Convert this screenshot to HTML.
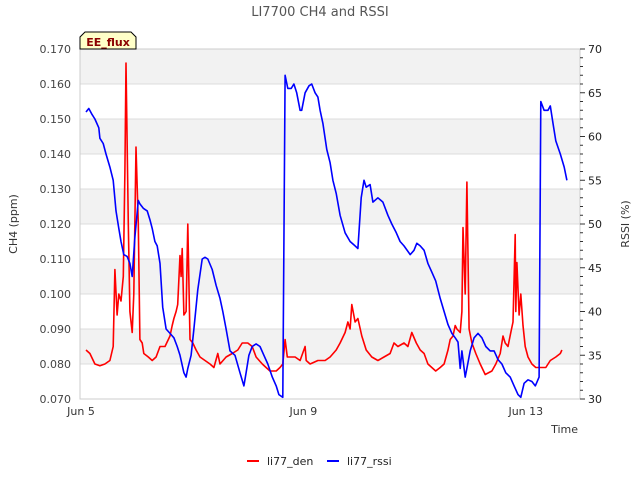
<!DOCTYPE html>
<html><head><meta charset="utf-8"><style>
body{margin:0;background:#fff;}
svg{display:block;font-family:"DejaVu Sans","Liberation Sans",sans-serif;}
</style></head><body>
<svg id="chart" width="640" height="480" viewBox="0 0 640 480" xmlns="http://www.w3.org/2000/svg">
<text x="320" y="16" text-anchor="middle" font-size="13" fill="#555">LI7700 CH4 and RSSI</text>
<g id="bands"></g><g id="grid"></g>
<rect x="80" y="49" width="500" height="350" fill="none" stroke="#ccc"/>
<g id="lticks"></g><g id="rticks"></g><g id="xticks"></g>
<g id="series"></g>
<text transform="translate(17,224) rotate(-90)" text-anchor="middle" font-size="11" fill="#333">CH4 (ppm)</text>
<text transform="translate(629,224) rotate(-90)" text-anchor="middle" font-size="11" fill="#333">RSSI (%)</text>
<text x="578" y="433" text-anchor="end" font-size="11" fill="#333">Time</text>
<g>
<path d="M80,49 L80,37 L85,32 L131,32 L136,37 L136,49 Z" fill="#ffffc8" stroke="#000" stroke-width="1"/>
<text x="108" y="46" text-anchor="middle" font-size="11" font-weight="bold" fill="#8b0000">EE_flux</text>
</g>
<g>
<line x1="247" y1="461" x2="259" y2="461" stroke="red" stroke-width="2"/>
<text x="267" y="465" font-size="11" fill="#222">li77_den</text>
<line x1="327" y1="461" x2="339" y2="461" stroke="blue" stroke-width="2"/>
<text x="347" y="465" font-size="11" fill="#222">li77_rssi</text>
</g>
</svg>
<script>
const denT=[0.09,0.16,0.25,0.34,0.43,0.52,0.58,0.61,0.65,0.68,0.72,0.76,0.79,0.81,0.85,0.88,0.92,0.95,0.99,1.03,1.06,1.10,1.13,1.21,1.28,1.35,1.42,1.51,1.60,1.64,1.67,1.71,1.74,1.78,1.80,1.82,1.85,1.89,1.92,1.96,2.01,2.07,2.14,2.23,2.32,2.39,2.46,2.50,2.61,2.72,2.82,2.90,3.00,3.08,3.15,3.26,3.33,3.40,3.51,3.58,3.63,3.67,3.71,3.85,3.94,4.03,4.05,4.12,4.26,4.39,4.48,4.59,4.66,4.75,4.80,4.84,4.87,4.93,4.98,5.05,5.13,5.23,5.34,5.45,5.56,5.63,5.70,5.81,5.88,5.95,6.03,6.10,6.17,6.24,6.31,6.38,6.46,6.53,6.60,6.64,6.69,6.73,6.76,6.82,6.85,6.87,6.91,6.94,6.98,7.03,7.10,7.18,7.27,7.39,7.46,7.54,7.59,7.63,7.68,7.73,7.77,7.81,7.82,7.84,7.88,7.91,7.95,7.99,8.04,8.11,8.18,8.36,8.44,8.54,8.62,8.65];
const denV=[0.084,0.083,0.080,0.0795,0.080,0.081,0.085,0.107,0.094,0.100,0.098,0.105,0.135,0.166,0.120,0.095,0.089,0.100,0.142,0.120,0.087,0.086,0.083,0.082,0.081,0.082,0.085,0.085,0.088,0.091,0.093,0.095,0.097,0.111,0.105,0.113,0.094,0.095,0.120,0.087,0.086,0.084,0.082,0.081,0.080,0.079,0.083,0.080,0.082,0.083,0.084,0.086,0.086,0.085,0.082,0.080,0.079,0.078,0.078,0.079,0.080,0.087,0.082,0.082,0.081,0.085,0.081,0.080,0.081,0.081,0.082,0.084,0.086,0.089,0.092,0.090,0.097,0.092,0.093,0.088,0.084,0.082,0.081,0.082,0.083,0.086,0.085,0.086,0.085,0.089,0.086,0.084,0.083,0.080,0.079,0.078,0.079,0.080,0.084,0.087,0.088,0.091,0.090,0.089,0.095,0.119,0.100,0.132,0.090,0.086,0.083,0.080,0.077,0.078,0.080,0.083,0.088,0.086,0.085,0.089,0.092,0.117,0.095,0.109,0.094,0.100,0.091,0.085,0.082,0.080,0.079,0.079,0.081,0.082,0.083,0.084];
const rssiT=[0.09,0.14,0.20,0.25,0.32,0.34,0.40,0.45,0.52,0.58,0.63,0.68,0.72,0.77,0.83,0.88,0.92,0.97,1.03,1.06,1.12,1.19,1.24,1.28,1.33,1.37,1.42,1.47,1.53,1.60,1.67,1.73,1.78,1.85,1.89,1.92,1.98,2.03,2.10,2.18,2.23,2.28,2.36,2.43,2.50,2.55,2.61,2.68,2.77,2.86,2.93,2.97,3.02,3.08,3.15,3.22,3.29,3.36,3.44,3.51,3.56,3.63,3.67,3.72,3.78,3.83,3.88,3.94,3.97,4.03,4.10,4.15,4.21,4.26,4.30,4.35,4.42,4.48,4.53,4.59,4.66,4.75,4.84,4.93,4.98,5.04,5.09,5.13,5.20,5.25,5.34,5.43,5.52,5.59,5.67,5.74,5.81,5.92,5.99,6.04,6.10,6.17,6.24,6.31,6.38,6.46,6.53,6.60,6.67,6.73,6.78,6.82,6.85,6.91,6.94,7.00,7.07,7.14,7.21,7.28,7.36,7.43,7.50,7.57,7.64,7.72,7.79,7.86,7.91,7.97,8.04,8.11,8.17,8.24,8.27,8.33,8.40,8.44,8.49,8.54,8.62,8.69,8.74];
const rssiV=[62.8,63.2,62.5,62.0,61.0,59.8,59.2,58.0,56.5,55.0,51.5,49.5,48.0,46.5,46.3,45.5,44.0,48.5,52.7,52.3,51.8,51.5,50.5,49.5,48.0,47.5,45.5,40.5,38.0,37.5,37.0,36.0,35.0,33.0,32.5,33.5,35.0,38.0,42.5,46.0,46.2,46.0,44.8,43.0,41.5,40.0,38.0,35.5,35.0,33.0,31.5,33.0,35.0,36.0,36.3,36.0,35.0,34.0,32.5,31.5,30.5,30.2,67.0,65.5,65.5,66.0,65.0,63.0,63.0,65.0,65.8,66.0,65.0,64.5,63.0,61.5,58.5,57.0,55.0,53.5,51.0,49.0,48.0,47.5,47.2,53.0,55.0,54.2,54.5,52.5,53.0,52.5,51.0,50.0,49.0,48.0,47.5,46.5,47.0,47.8,47.5,47.0,45.5,44.5,43.5,41.5,40.0,38.5,37.5,37.0,36.5,33.5,35.5,32.5,33.5,35.5,37.0,37.5,37.0,36.0,35.5,35.5,34.5,34.0,33.0,32.5,31.5,30.5,30.2,31.8,32.2,32.0,31.5,32.5,64.0,63.0,63.0,63.5,61.5,59.5,58.0,56.5,55.0];
const leftTicks=["0.070","0.080","0.090","0.100","0.110","0.120","0.130","0.140","0.150","0.160","0.170"];
const rightTicks=[30,35,40,45,50,55,60,65,70];
const xTickDays=[0,4,8];
const xTickLabels=["Jun 5","Jun 9","Jun 13"];

const NS="http://www.w3.org/2000/svg";
const X0=80,X1=580,Y0=399,Y1=49;
const dayPx=55.6, day0x=81;
const xs=d=>day0x+d*dayPx;
const yl=v=>Y0-(v-0.07)/0.1*(Y0-Y1);
const yr=v=>Y0-(v-30)/40*(Y0-Y1);
function mk(tag,attrs,parent){const e=document.createElementNS(NS,tag);for(const k in attrs)e.setAttribute(k,attrs[k]);parent.appendChild(e);return e;}
const bands=document.getElementById('bands'),grid=document.getElementById('grid');
for(let i=0;i<10;i++){
  const lo=0.07+i*0.01;
  if(i%2===1){const r=mk('rect',{x:X0,y:yl(lo+0.01),width:X1-X0,height:yl(lo)-yl(lo+0.01),fill:'#f2f2f2'},bands);
  
  }
}
const lt=document.getElementById('lticks');
leftTicks.forEach(s=>{const v=parseFloat(s);const y=yl(v);
  const g=mk('line',{x1:X0,x2:X1,y1:y,y2:y,stroke:'#dcdcdc'},grid);
  
  
  const t=mk('text',{x:71,y:y+4,'text-anchor':'end','font-size':'11',fill:'#444'},lt);
  
  
  t.textContent=s;});
const rt=document.getElementById('rticks');
for(let v=30;v<=70;v++){const y=yr(v);const major=v%5===0;
  const l=mk('line',{x1:X1,x2:X1+(major?5:3),y1:y,y2:y,stroke:'#333'},rt);
  
  }
rightTicks.forEach(v=>{const t=mk('text',{x:588,y:yr(v)+4,'font-size':'11',fill:'#222'},rt);
  
  
  t.textContent=v;});
const xt=document.getElementById('xticks');
xTickDays.forEach((d,i)=>{const t=mk('text',{x:xs(d),y:415,'text-anchor':'middle','font-size':'11',fill:'#333'},xt);
  
  
  t.textContent=xTickLabels[i];});
const ser=document.getElementById('series');
function line(T,V,yf,col,name){const d=T.map((t,i)=>(i?'L':'M')+xs(t).toFixed(1)+','+yf(V[i]).toFixed(1)).join('');
  const p=mk('path',{d:d,fill:'none',stroke:col,'stroke-width':'1.6','stroke-linejoin':'round'},ser);
  
  }
line(denT,denV,yl,'red','li77-den-line');
line(rssiT,rssiV,yr,'blue','li77-rssi-line');
</script>
</body></html>
